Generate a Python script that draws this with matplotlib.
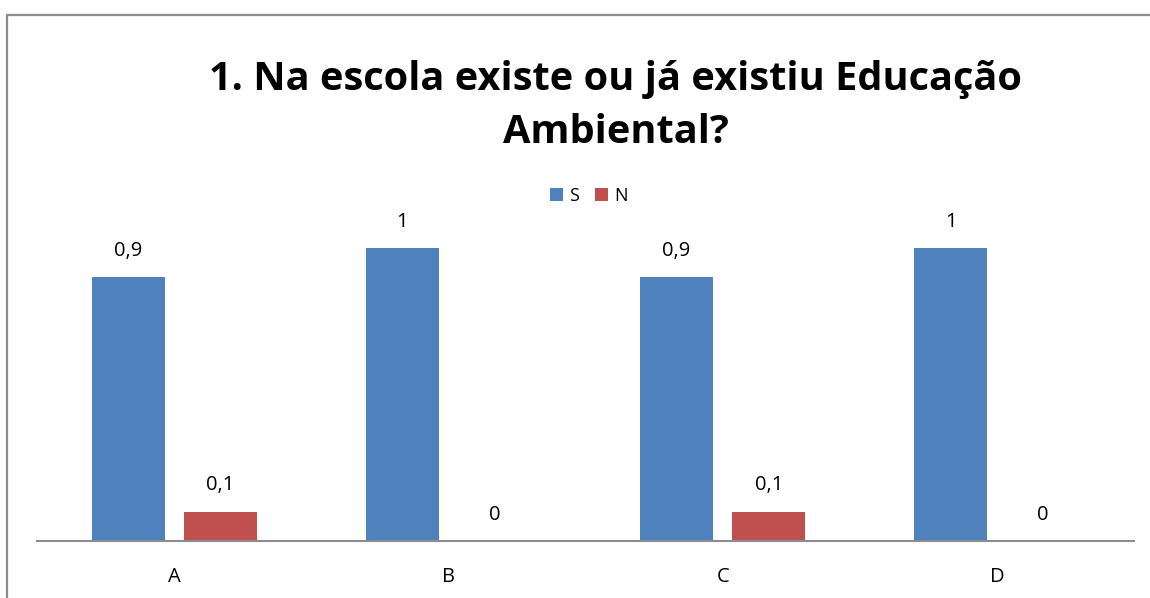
import matplotlib
matplotlib.use("Agg")
import matplotlib.pyplot as plt
import numpy as np
from matplotlib.patches import Rectangle

# ─── Data ─────────────────────────────────────────────────────────────────────
categories = ["A", "B", "C", "D"]
series_names = ["S", "N"]
s_values = [0.9, 1, 0.9, 1]
n_values = [0.1, 0, 0.1, 0]
title = "1. Na escola existe ou já existiu Educação\nAmbiental?"

BLUE = "#4F81BD"
RED = "#C0504D"
FONT = ["Open Sans", "DejaVu Sans"]

W, H = 1150, 598
fig = plt.figure(figsize=(W / 100, H / 100), dpi=100)
plt.rcParams["font.family"] = FONT

# chart border (top + left visible, rest cropped away)
fig.patches.append(Rectangle((7 / W, -0.1), 1.2, 1 - 15 / H + 0.1,
                             transform=fig.transFigure, fill=False,
                             edgecolor="#8c8c8c", linewidth=1.6))

ax = fig.add_axes([37 / W, (H - 541) / H, (1134 - 37) / W, (541 - 189.4) / H])
x = np.arange(len(categories))
width = 0.266
off = 0.168
bars_s = ax.bar(x - off, s_values, width, color=BLUE, label=series_names[0])
bars_n = ax.bar(x + off, n_values, width, color=RED, label=series_names[1])

for bars, vals in ((bars_s, s_values), (bars_n, n_values)):
    for b, v in zip(bars, vals):
        txt = f"{v:g}".replace(".", ",")
        ax.annotate(txt, (b.get_x() + b.get_width() / 2, v),
                    xytext=(0, 19), textcoords="offset points",
                    ha="center", va="center", fontsize=14.5)

ax.set_xlim(-0.5, len(categories) - 0.5)
ax.set_ylim(0, 1.2)
ax.set_yticks([])
ax.set_xticks(x)
ax.set_xticklabels(categories, fontsize=14.5)
ax.tick_params(axis="x", length=0, pad=19)
for side in ("top", "right", "left"):
    ax.spines[side].set_visible(False)
ax.spines["bottom"].set_color("#8c8c8c")
ax.spines["bottom"].set_linewidth(1.5)

fig.text(616 / W, 1 - 106 / H, title, ha="center", va="center",
         fontsize=28.6, fontweight="bold", linespacing=1.48)

fig.legend(loc="center", bbox_to_anchor=(589 / W, 1 - 196 / H), ncol=2,
           frameon=False, fontsize=13, handlelength=0.72, handleheight=0.72,
           handletextpad=0.35, columnspacing=0.9)

fig.savefig("out.png", dpi=100)
